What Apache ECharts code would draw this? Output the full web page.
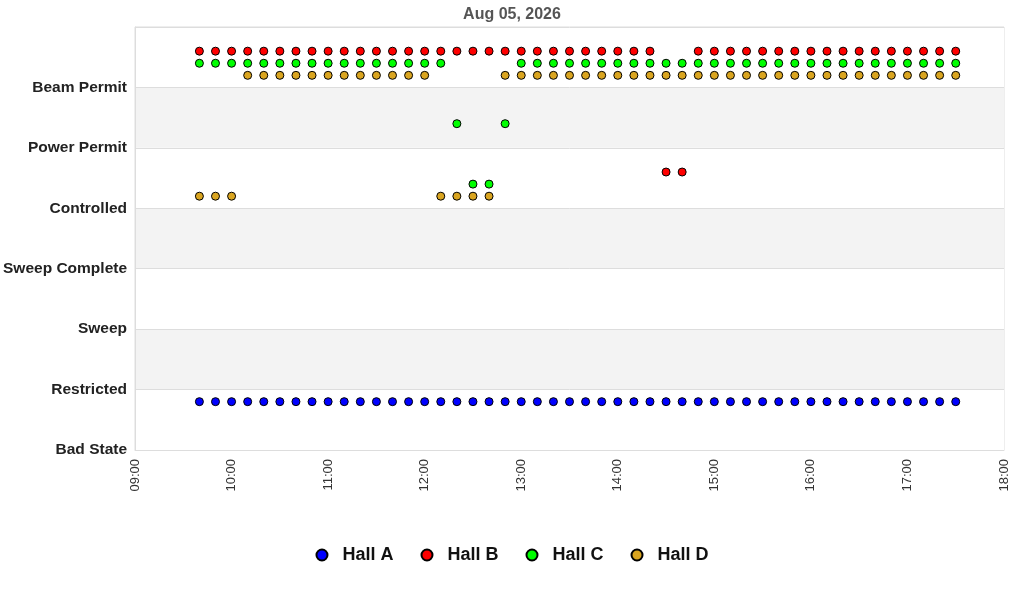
<!DOCTYPE html>
<html>
<head>
    <meta charset="utf-8">
    <title>Hall States</title>
    <script src="https://cdn.jsdelivr.net/npm/echarts@6/dist/echarts.min.js"></script>
    <style>
        html, body { margin: 0; padding: 0; background: #fff; }
    </style>
</head>
<body>
<div id="main" style="width: 1024px;height:600px;"></div>
<script type="text/javascript">
// state names, bottom to top
var stateNames = ['Bad State', 'Restricted', 'Sweep', 'Sweep Complete', 'Controlled', 'Power Permit', 'Beam Permit'];

var times = ['09:40','09:50','10:00','10:10','10:20','10:30','10:40','10:50',
             '11:00','11:10','11:20','11:30','11:40','11:50',
             '12:00','12:10','12:20','12:30','12:40','12:50',
             '13:00','13:10','13:20','13:30','13:40','13:50',
             '14:00','14:10','14:20','14:30','14:40','14:50',
             '15:00','15:10','15:20','15:30','15:40','15:50',
             '16:00','16:10','16:20','16:30','16:40','16:50',
             '17:00','17:10','17:20','17:30'];

var hallNames = ['Hall A', 'Hall B', 'Hall C', 'Hall D'];
var hallColors = ['#0000ff', '#ff0000', '#00ff00', '#daa520'];
var hallOffsets = [0.8, 0.6, 0.4, 0.2];

// state index per sample
var hallA = [0,0,0,0,0,0,0,0,0,0,0,0,0,0,0,0,0,0,0,0,0,0,0,0,
             0,0,0,0,0,0,0,0,0,0,0,0,0,0,0,0,0,0,0,0,0,0,0,0];
var hallB = [6,6,6,6,6,6,6,6,6,6,6,6,6,6,6,6,6,6,6,6,6,6,6,6,
             6,6,6,6,6,4,4,6,6,6,6,6,6,6,6,6,6,6,6,6,6,6,6,6];
var hallC = [6,6,6,6,6,6,6,6,6,6,6,6,6,6,6,6,5,4,4,5,6,6,6,6,
             6,6,6,6,6,6,6,6,6,6,6,6,6,6,6,6,6,6,6,6,6,6,6,6];
var hallD = [4,4,4,6,6,6,6,6,6,6,6,6,6,6,6,4,4,4,4,6,6,6,6,6,
             6,6,6,6,6,6,6,6,6,6,6,6,6,6,6,6,6,6,6,6,6,6,6,6];
var hallStates = [hallA, hallB, hallC, hallD];

function toMin(t) {
    var p = t.split(':');
    return parseInt(p[0], 10) * 60 + parseInt(p[1], 10);
}
function fmtMin(v) {
    var h = Math.floor(v / 60), m = v % 60;
    return (h < 10 ? '0' : '') + h + ':' + (m < 10 ? '0' : '') + m;
}

var series = [];
for (var h = 0; h < hallNames.length; h++) {
    var d = [];
    for (var i = 0; i < times.length; i++) {
        d.push([toMin(times[i]), hallStates[h][i] + hallOffsets[h]]);
    }
    series.push({
        name: hallNames[h],
        type: 'scatter',
        symbol: 'circle',
        symbolSize: 8,
        itemStyle: { color: hallColors[h], borderColor: '#000', borderWidth: 1, opacity: 1 },
        data: d
    });
}

var myChart = echarts.init(document.getElementById('main'));
var option = {
    animation: false,
    textStyle: { fontFamily: 'Liberation Sans, Arial, sans-serif' },
    title: {
        text: 'Aug 05, 2026',
        left: 'center',
        top: 2,
        textStyle: { fontSize: 16, fontWeight: 'bold', color: '#555' }
    },
    legend: {
        bottom: 31,
        left: 'center',
        icon: 'circle',
        itemWidth: 11,
        itemHeight: 11,
        itemGap: 27,
        textStyle: { fontSize: 18, fontWeight: 'bold', color: '#111', padding: [0, 0, 0, 10] },
        data: hallNames
    },
    grid: {
        left: 135,
        right: 20,
        top: 27,
        bottom: 150,
        show: true,
        borderColor: '#ddd',
        borderWidth: 1
    },
    xAxis: {
        type: 'value',
        min: 540,
        max: 1080,
        interval: 60,
        axisLine: { show: true, lineStyle: { color: '#ddd' } },
        axisTick: { show: false },
        splitLine: { show: false },
        axisLabel: {
            rotate: 90,
            margin: 9,
            fontSize: 13,
            color: '#333',
            formatter: function (v) { return fmtMin(v); }
        }
    },
    yAxis: {
        type: 'value',
        min: 0,
        max: 7,
        interval: 1,
        axisLine: { show: true, lineStyle: { color: '#ddd' } },
        axisTick: { show: false },
        splitLine: { show: true, lineStyle: { color: '#ddd' } },
        splitArea: { show: true, areaStyle: { color: ['#ffffff', '#f3f3f3'] } },
        axisLabel: {
            margin: 8,
            fontSize: 15.5,
            fontWeight: 'bold',
            color: '#222',
            formatter: function (v) { return stateNames[v] || ''; }
        }
    },
    series: series
};
myChart.setOption(option);
</script>
</body>
</html>
